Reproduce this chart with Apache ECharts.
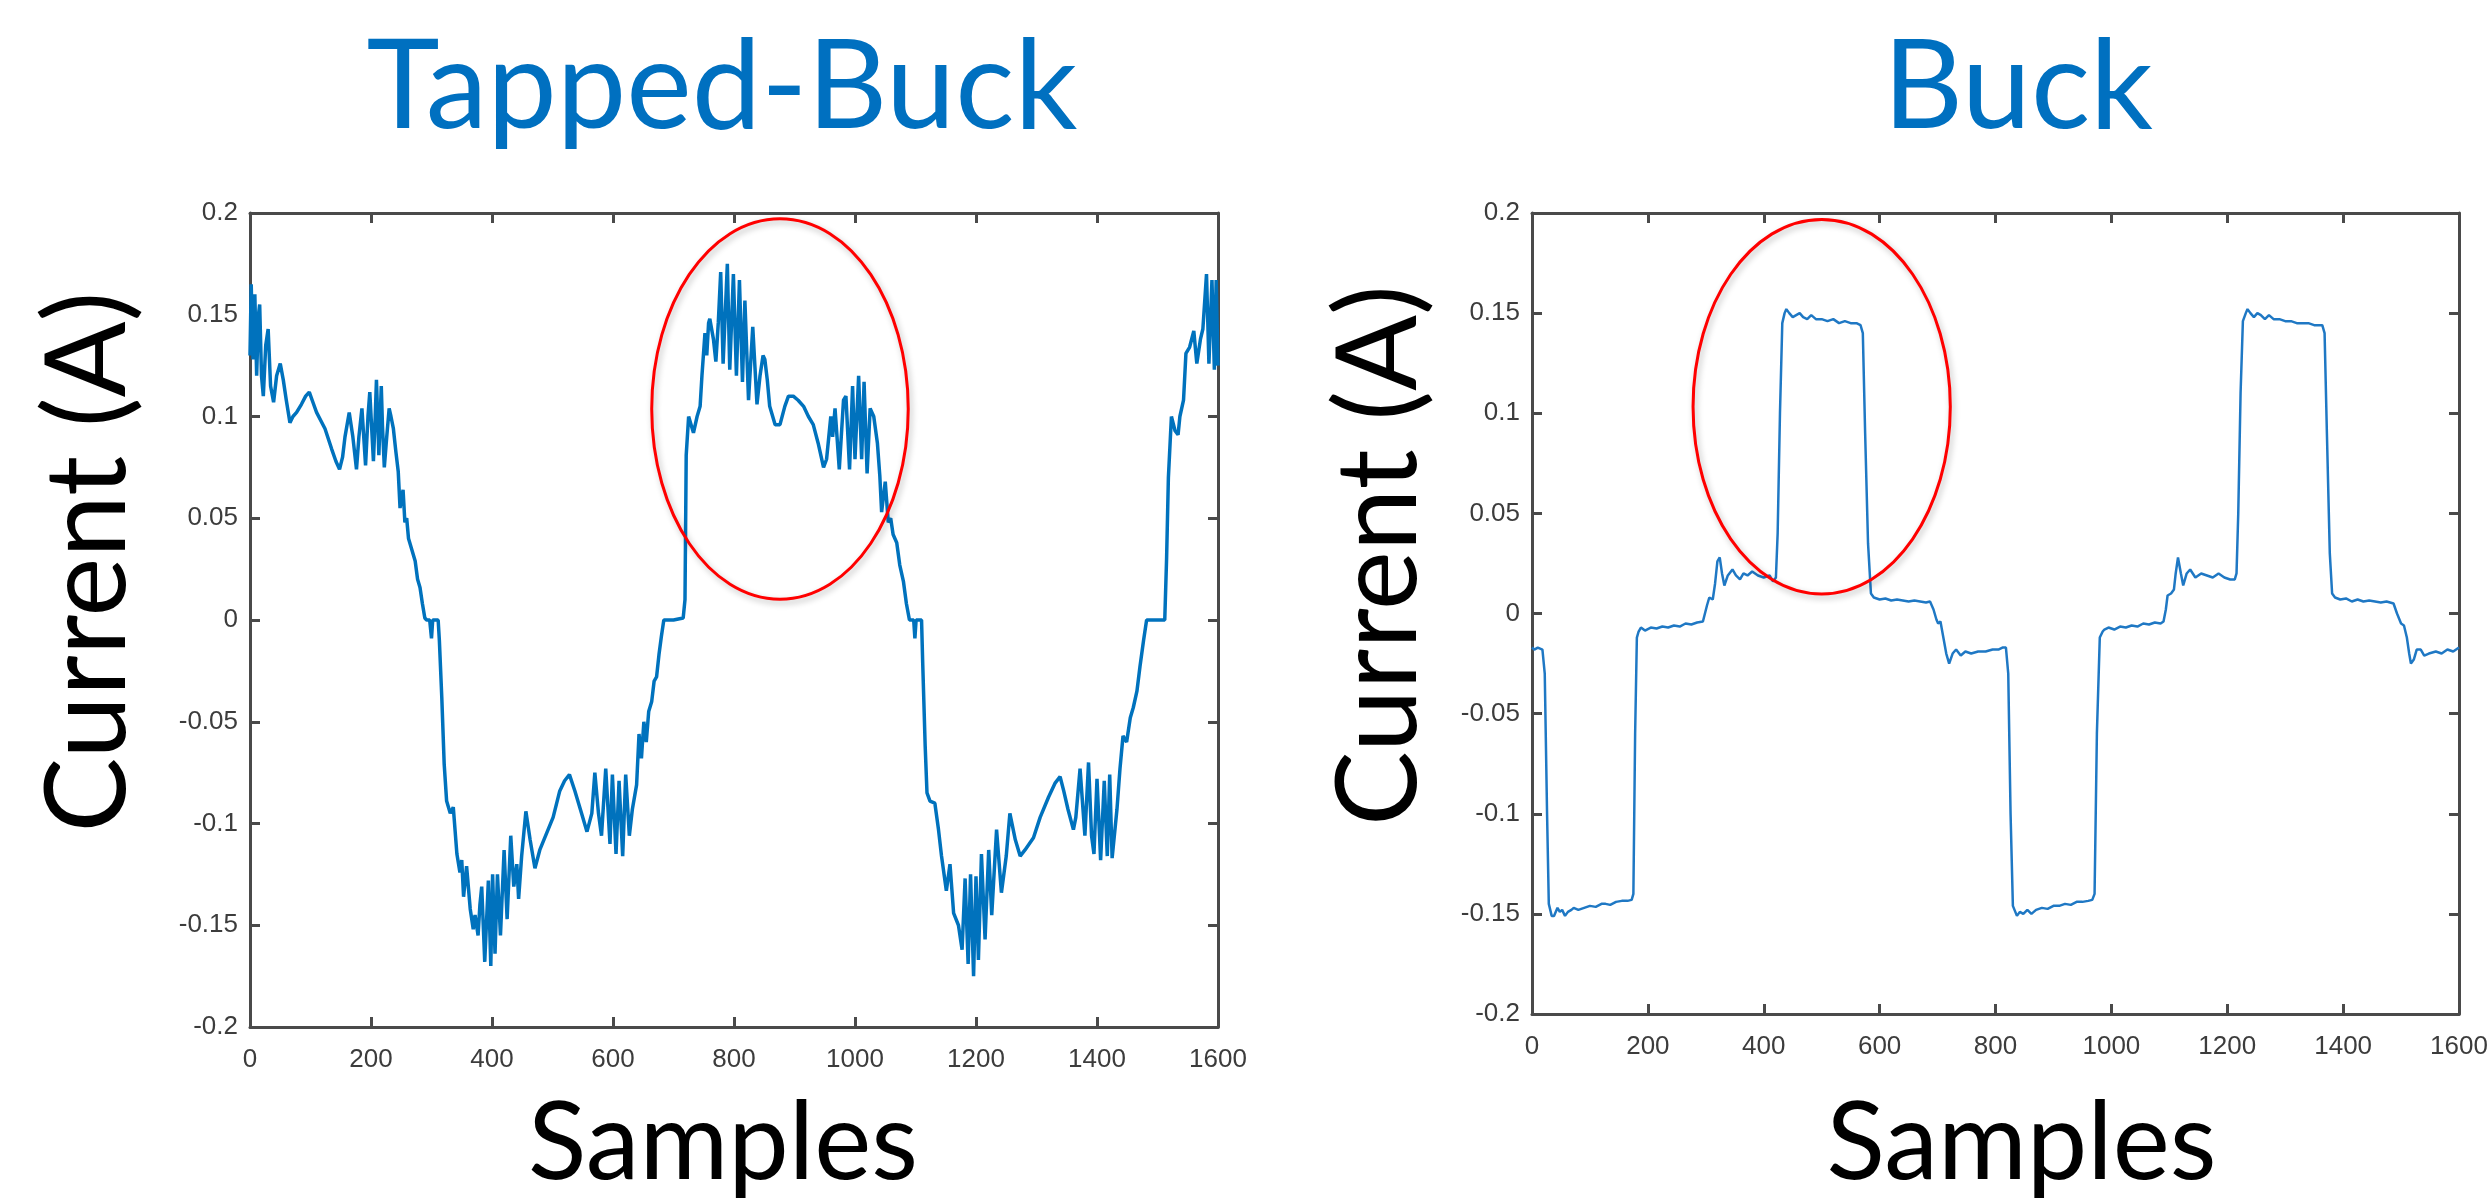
<!DOCTYPE html>
<html>
<head>
<meta charset="utf-8">
<script src="https://cdn.jsdelivr.net/npm/echarts@6/dist/echarts.min.js"></script>
<style>
  html, body { margin: 0; padding: 0; background: #fff; }
  #chart { width: 2491px; height: 1203px; }
</style>
</head>
<body>
<div id="chart"></div>
<script>
// tapped-buck current
const tbSamples = [
  0, 2, 5, 8, 11, 14, 16, 19, 22, 26,
  30, 34, 39, 44, 50, 55, 60, 66, 71, 77,
  85, 92, 98, 104, 110, 124, 135, 142, 148, 153,
  157, 164, 170, 176, 180, 185, 188, 191, 195, 198,
  201, 204, 207, 209, 211, 213, 217, 219, 222, 226,
  230, 233, 237, 241, 245, 248, 253, 256, 259, 262,
  265, 268, 273, 277, 281, 285, 289, 292, 297, 300,
  302, 311, 313, 317, 321, 325, 331, 336, 342, 347,
  350, 353, 358, 364, 369, 372, 377, 380, 383, 388,
  394, 398, 401, 405, 409, 414, 420, 425, 431, 436,
  441, 444, 449, 456, 463, 471, 479, 490, 501, 512,
  520, 528, 537, 548, 557, 565, 570, 576, 581, 588,
  595, 599, 605, 610, 616, 621, 627, 632, 639, 643,
  647, 651, 655, 659, 664, 668, 672, 676, 680, 684,
  700, 716, 719, 721, 725, 727, 733, 739, 744, 747,
  752, 755, 758, 760, 766, 770, 774, 778, 782, 789,
  793, 799, 804, 809, 814, 818, 824, 831, 838, 843,
  848, 851, 855, 859, 868, 876, 884, 890, 898, 906,
  915, 923, 931, 939, 948, 953, 960, 963, 967, 974,
  981, 985, 991, 996, 1000, 1006, 1011, 1015, 1020, 1025,
  1031, 1037, 1041, 1044, 1050, 1055, 1059, 1063, 1069, 1074,
  1080, 1085, 1090, 1097, 1099, 1101, 1110, 1112, 1116, 1119,
  1124, 1132, 1138, 1143, 1151, 1157, 1163, 1171, 1177, 1182,
  1187, 1191, 1196, 1200, 1204, 1209, 1215, 1221, 1226, 1234,
  1242, 1250, 1256, 1265, 1273, 1281, 1295, 1306, 1320, 1331,
  1339, 1345, 1352, 1361, 1365, 1372, 1380, 1386, 1391, 1395,
  1400, 1406, 1412, 1417, 1421, 1425, 1433, 1438, 1443, 1449,
  1455, 1460, 1466, 1471, 1477, 1482, 1512, 1515, 1518, 1523,
  1529, 1534, 1537, 1543, 1547, 1553, 1560, 1565, 1571, 1575,
  1581, 1585, 1590, 1594, 1597, 1600
];
const tbCurrent = [
  0.13, 0.165, 0.128, 0.16, 0.12, 0.15, 0.155, 0.12, 0.11, 0.135,
  0.143, 0.115, 0.107, 0.12, 0.126, 0.118, 0.108, 0.097, 0.1, 0.102,
  0.106, 0.11, 0.112, 0.107, 0.102, 0.094, 0.084, 0.078, 0.074, 0.08,
  0.09, 0.102, 0.09, 0.074, 0.09, 0.104, 0.09, 0.076, 0.1, 0.112,
  0.095, 0.078, 0.1, 0.118, 0.1, 0.081, 0.115, 0.095, 0.075, 0.09,
  0.104, 0.1, 0.094, 0.083, 0.073, 0.055, 0.064, 0.048, 0.05, 0.04,
  0.04, 0.034, 0.029, 0.02, 0.016, 0.008, 0.001, 0, 0, -0.009,
  0, 0, -0.01, -0.038, -0.071, -0.089, -0.095, -0.092, -0.115, -0.124,
  -0.118, -0.136, -0.121, -0.142, -0.152, -0.145, -0.155, -0.14, -0.131, -0.168,
  -0.128, -0.17, -0.125, -0.164, -0.125, -0.155, -0.113, -0.147, -0.106, -0.131,
  -0.12, -0.137, -0.116, -0.094, -0.108, -0.122, -0.113, -0.105, -0.097, -0.084,
  -0.079, -0.076, -0.084, -0.095, -0.104, -0.095, -0.075, -0.095, -0.106, -0.073,
  -0.11, -0.076, -0.115, -0.079, -0.116, -0.076, -0.106, -0.093, -0.081, -0.056,
  -0.068, -0.05, -0.06, -0.045, -0.04, -0.03, -0.028, -0.017, -0.008, 0,
  0, 0.001, 0.01, 0.081, 0.1, 0.1, 0.092, 0.1, 0.105, 0.12,
  0.141, 0.13, 0.146, 0.148, 0.138, 0.127, 0.146, 0.171, 0.126, 0.175,
  0.123, 0.17, 0.12, 0.167, 0.117, 0.157, 0.108, 0.144, 0.106, 0.12,
  0.13, 0.128, 0.118, 0.105, 0.096, 0.096, 0.105, 0.11, 0.11, 0.108,
  0.105, 0.1, 0.096, 0.087, 0.075, 0.079, 0.1, 0.09, 0.104, 0.074,
  0.108, 0.11, 0.074, 0.115, 0.079, 0.12, 0.079, 0.117, 0.072, 0.104,
  0.1, 0.087, 0.071, 0.053, 0.068, 0.048, 0.05, 0.042, 0.038, 0.027,
  0.019, 0.008, 0, 0, -0.009, 0, 0, -0.022, -0.062, -0.085,
  -0.089, -0.09, -0.103, -0.116, -0.133, -0.12, -0.144, -0.15, -0.162, -0.127,
  -0.169, -0.125, -0.175, -0.126, -0.167, -0.115, -0.157, -0.113, -0.145, -0.103,
  -0.134, -0.116, -0.095, -0.108, -0.116, -0.113, -0.107, -0.097, -0.087, -0.08,
  -0.077, -0.084, -0.093, -0.103, -0.097, -0.073, -0.106, -0.07, -0.106, -0.115,
  -0.078, -0.118, -0.079, -0.116, -0.076, -0.117, -0.093, -0.073, -0.057, -0.06,
  -0.048, -0.043, -0.035, -0.023, -0.01, 0, 0, 0.03, 0.07, 0.1,
  0.093, 0.091, 0.1, 0.108, 0.131, 0.134, 0.142, 0.126, 0.138, 0.143,
  0.17, 0.126, 0.167, 0.123, 0.167, 0.125
];

// buck current
const bkSamples = [
  0, 4, 10, 18, 22, 26, 29, 34, 38, 44,
  48, 52, 57, 62, 68, 72, 80, 90, 100, 110,
  120, 127, 135, 145, 155, 165, 172, 175, 178, 181,
  184, 188, 195, 205, 215, 225, 235, 245, 255, 265,
  275, 285, 295, 298, 302, 306, 312, 316, 320, 324,
  328, 332, 338, 346, 352, 359, 365, 372, 380, 390,
  400, 410, 416, 421, 424, 428, 432, 436, 439, 444,
  450, 456, 462, 468, 475, 482, 490, 500, 510, 520,
  530, 540, 550, 560, 567, 571, 575, 580, 585, 590,
  600, 610, 620, 630, 640, 650, 660, 670, 680, 687,
  693, 698, 701, 705, 710, 715, 720, 726, 732, 740,
  748, 758, 770, 783, 795, 805, 812, 818, 822, 826,
  830, 837, 842, 848, 855, 862, 870, 880, 890, 900,
  910, 920, 930, 940, 950, 960, 967, 971, 975, 980,
  985, 988, 995, 1005, 1015, 1025, 1035, 1045, 1055, 1065,
  1075, 1085, 1090, 1094, 1097, 1103, 1108, 1111, 1115, 1120,
  1124, 1130, 1136, 1145, 1155, 1165, 1175, 1185, 1195, 1205,
  1213, 1216, 1219, 1223, 1227, 1232, 1235, 1240, 1246, 1252,
  1258, 1265, 1272, 1280, 1290, 1300, 1310, 1320, 1330, 1340,
  1350, 1358, 1364, 1368, 1372, 1377, 1381, 1386, 1395, 1405,
  1415, 1425, 1435, 1445, 1455, 1465, 1475, 1487, 1493, 1500,
  1505, 1510, 1514, 1517, 1522, 1527, 1534, 1540, 1548, 1560,
  1570, 1580, 1590, 1600
];
const bkCurrent = [
  -0.017, -0.018, -0.017, -0.018, -0.03, -0.1, -0.145, -0.151, -0.151, -0.147,
  -0.149, -0.148, -0.151, -0.149, -0.148, -0.147, -0.148, -0.147, -0.146, -0.1465,
  -0.145, -0.145, -0.1455, -0.144, -0.1435, -0.1435, -0.143, -0.14, -0.06, -0.012,
  -0.009, -0.007, -0.0085, -0.007, -0.0075, -0.0065, -0.007, -0.006, -0.0065, -0.005,
  -0.0055, -0.0045, -0.004, -0.004, 0.004, 0.008, 0.007, 0.015, 0.026, 0.028,
  0.02, 0.014, 0.019, 0.022, 0.019, 0.017, 0.02, 0.019, 0.021, 0.019,
  0.018, 0.019, 0.016, 0.018, 0.04, 0.1, 0.145, 0.15, 0.152, 0.15,
  0.148, 0.149, 0.15, 0.148, 0.147, 0.149, 0.147, 0.147, 0.146, 0.147,
  0.145, 0.146, 0.145, 0.145, 0.144, 0.14, 0.09, 0.035, 0.01, 0.008,
  0.007, 0.0075, 0.0065, 0.007, 0.0065, 0.006, 0.0065, 0.006, 0.0055, 0.006,
  0.002, -0.003, -0.005, -0.004, -0.012, -0.02, -0.025, -0.02, -0.018, -0.021,
  -0.019, -0.02, -0.019, -0.019, -0.018, -0.018, -0.017, -0.017, -0.03, -0.1,
  -0.146, -0.151, -0.149, -0.15, -0.148, -0.15, -0.148, -0.147, -0.1475, -0.146,
  -0.146, -0.145, -0.1455, -0.144, -0.144, -0.1435, -0.143, -0.14, -0.06, -0.012,
  -0.009, -0.008, -0.007, -0.008, -0.0065, -0.007, -0.006, -0.0065, -0.005, -0.0055,
  -0.0045, -0.005, -0.004, 0.002, 0.009, 0.01, 0.012, 0.02, 0.028, 0.02,
  0.014, 0.02, 0.022, 0.018, 0.02, 0.019, 0.018, 0.02, 0.018, 0.017,
  0.017, 0.02, 0.05, 0.11, 0.146, 0.15, 0.152, 0.15, 0.148, 0.15,
  0.149, 0.147, 0.149, 0.147, 0.147, 0.146, 0.146, 0.145, 0.145, 0.145,
  0.144, 0.144, 0.144, 0.14, 0.09, 0.03, 0.01, 0.008, 0.007, 0.0075,
  0.006, 0.007, 0.006, 0.0065, 0.006, 0.0055, 0.006, 0.005, 0, -0.005,
  -0.006, -0.012, -0.02, -0.025, -0.023, -0.018, -0.018, -0.021, -0.02, -0.019,
  -0.02, -0.018, -0.019, -0.017
];

// red highlight ellipses: [centre sample, centre current, half width, half height]
const tbMark = [876, 0.1037, 212, 0.0935];
const bkMark = [500, 0.1033, 222, 0.0935];

const xTicks = { min: 0, max: 1600, interval: 200 };
const yTicks = { min: -0.2, max: 0.2, interval: 0.05 };

const frameColor = '#4a4a4a';
const textFont = 'Lato';

const chart = echarts.init(document.getElementById('chart'));

function zip(xs, ys) {
    return xs.map((x, i) => [x, ys[i]]);
}

function xAxisFor(grid, position, withName, nameGap, namePad) {
    return {
        type: 'value',
        gridIndex: grid,
        position,
        ...xTicks,
        name: withName ? 'Samples' : '',
        nameLocation: 'middle',
        nameGap,
        nameTextStyle: { fontFamily: textFont, fontSize: 108, color: '#000', padding: namePad },
        axisLine: { show: true, onZero: false, lineStyle: { color: frameColor, width: 3 } },
        axisTick: { show: true, inside: true, length: 10, lineStyle: { color: frameColor, width: 3 } },
        axisLabel: {
            show: position === 'bottom',
            margin: 20,
            fontFamily: 'Liberation Sans',
            fontSize: 26,
            color: '#3c3c3c',
            showMinLabel: true,
            showMaxLabel: true,
            formatter: v => String(v),
        },
        splitLine: { show: false },
    };
}

function yAxisFor(grid, position, withName, nameGap) {
    return {
        type: 'value',
        gridIndex: grid,
        position,
        ...yTicks,
        name: withName ? 'Current (A)' : '',
        nameLocation: 'middle',
        nameGap,
        // left padding pushes the rotated title up the axis
        nameTextStyle: { fontFamily: textFont, fontSize: 112, color: '#000', padding: [0, 0, 0, 116] },
        axisLine: { show: true, onZero: false, lineStyle: { color: frameColor, width: 3 } },
        axisTick: { show: true, inside: true, length: 10, lineStyle: { color: frameColor, width: 3 } },
        axisLabel: {
            show: position === 'left',
            margin: 12,
            fontFamily: 'Liberation Sans',
            fontSize: 26,
            color: '#3c3c3c',
            showMinLabel: true,
            showMaxLabel: true,
        },
        splitLine: { show: false },
    };
}

// ellipse drawn through the axes, so it follows the data scale
function ellipseItem(params, api) {
    const c = api.coord([api.value(0), api.value(1)]);
    const s = api.size([api.value(2), api.value(3)]);
    return {
        type: 'ellipse',
        shape: { cx: c[0], cy: c[1], rx: s[0], ry: s[1] },
        style: {
            fill: 'none',
            stroke: '#ff0000',
            lineWidth: 3,
            shadowColor: 'rgba(0,0,0,0.28)',
            shadowBlur: 6,
            shadowOffsetX: 2,
            shadowOffsetY: 3,
        },
    };
}

function titleText(text, x) {
    return {
        type: 'text',
        x,
        y: 88,
        style: {
            text,
            font: '124px Lato',
            fill: '#0070C0',
            textAlign: 'center',
            textVerticalAlign: 'middle',
            align: 'center',
            verticalAlign: 'middle',
        },
    };
}

const option = {
    backgroundColor: '#ffffff',
    animation: false,
    graphic: [
        titleText('Tapped-Buck', 722),
        titleText('Buck', 2018),
    ],
    grid: [
        { left: 250, top: 213, width: 968, height: 818 },
        { left: 1532, top: 213, width: 927, height: 818 },
    ],
    xAxis: [
        xAxisFor(0, 'bottom', true, 63, [0, 22, 0, 0]),
        xAxisFor(0, 'top', false, 0),
        xAxisFor(1, 'bottom', true, 76, [0, 0, 0, 52]),
        xAxisFor(1, 'top', false, 0),
    ],
    yAxis: [
        yAxisFor(0, 'left', true, 105),
        yAxisFor(0, 'right', false, 0),
        yAxisFor(1, 'left', true, 96),
        yAxisFor(1, 'right', false, 0),
    ],
    series: [
        {
            name: 'Tapped-Buck',
            type: 'line',
            xAxisIndex: 0,
            yAxisIndex: 0,
            data: zip(tbSamples, tbCurrent),
            showSymbol: false,
            lineStyle: { color: '#0072BD', width: 3.5 },
            z: 3,
        },
        {
            name: 'Buck',
            type: 'line',
            xAxisIndex: 2,
            yAxisIndex: 2,
            data: zip(bkSamples, bkCurrent),
            showSymbol: false,
            lineStyle: { color: '#1f78c4', width: 2.5 },
            z: 3,
        },
        {
            type: 'custom',
            xAxisIndex: 0,
            yAxisIndex: 0,
            renderItem: ellipseItem,
            data: [tbMark],
            encode: { x: 0, y: 1 },
            z: 5,
        },
        {
            type: 'custom',
            xAxisIndex: 2,
            yAxisIndex: 2,
            renderItem: ellipseItem,
            data: [bkMark],
            encode: { x: 0, y: 1 },
            z: 5,
        },
    ],
};

option && chart.setOption(option);
</script>
</body>
</html>
